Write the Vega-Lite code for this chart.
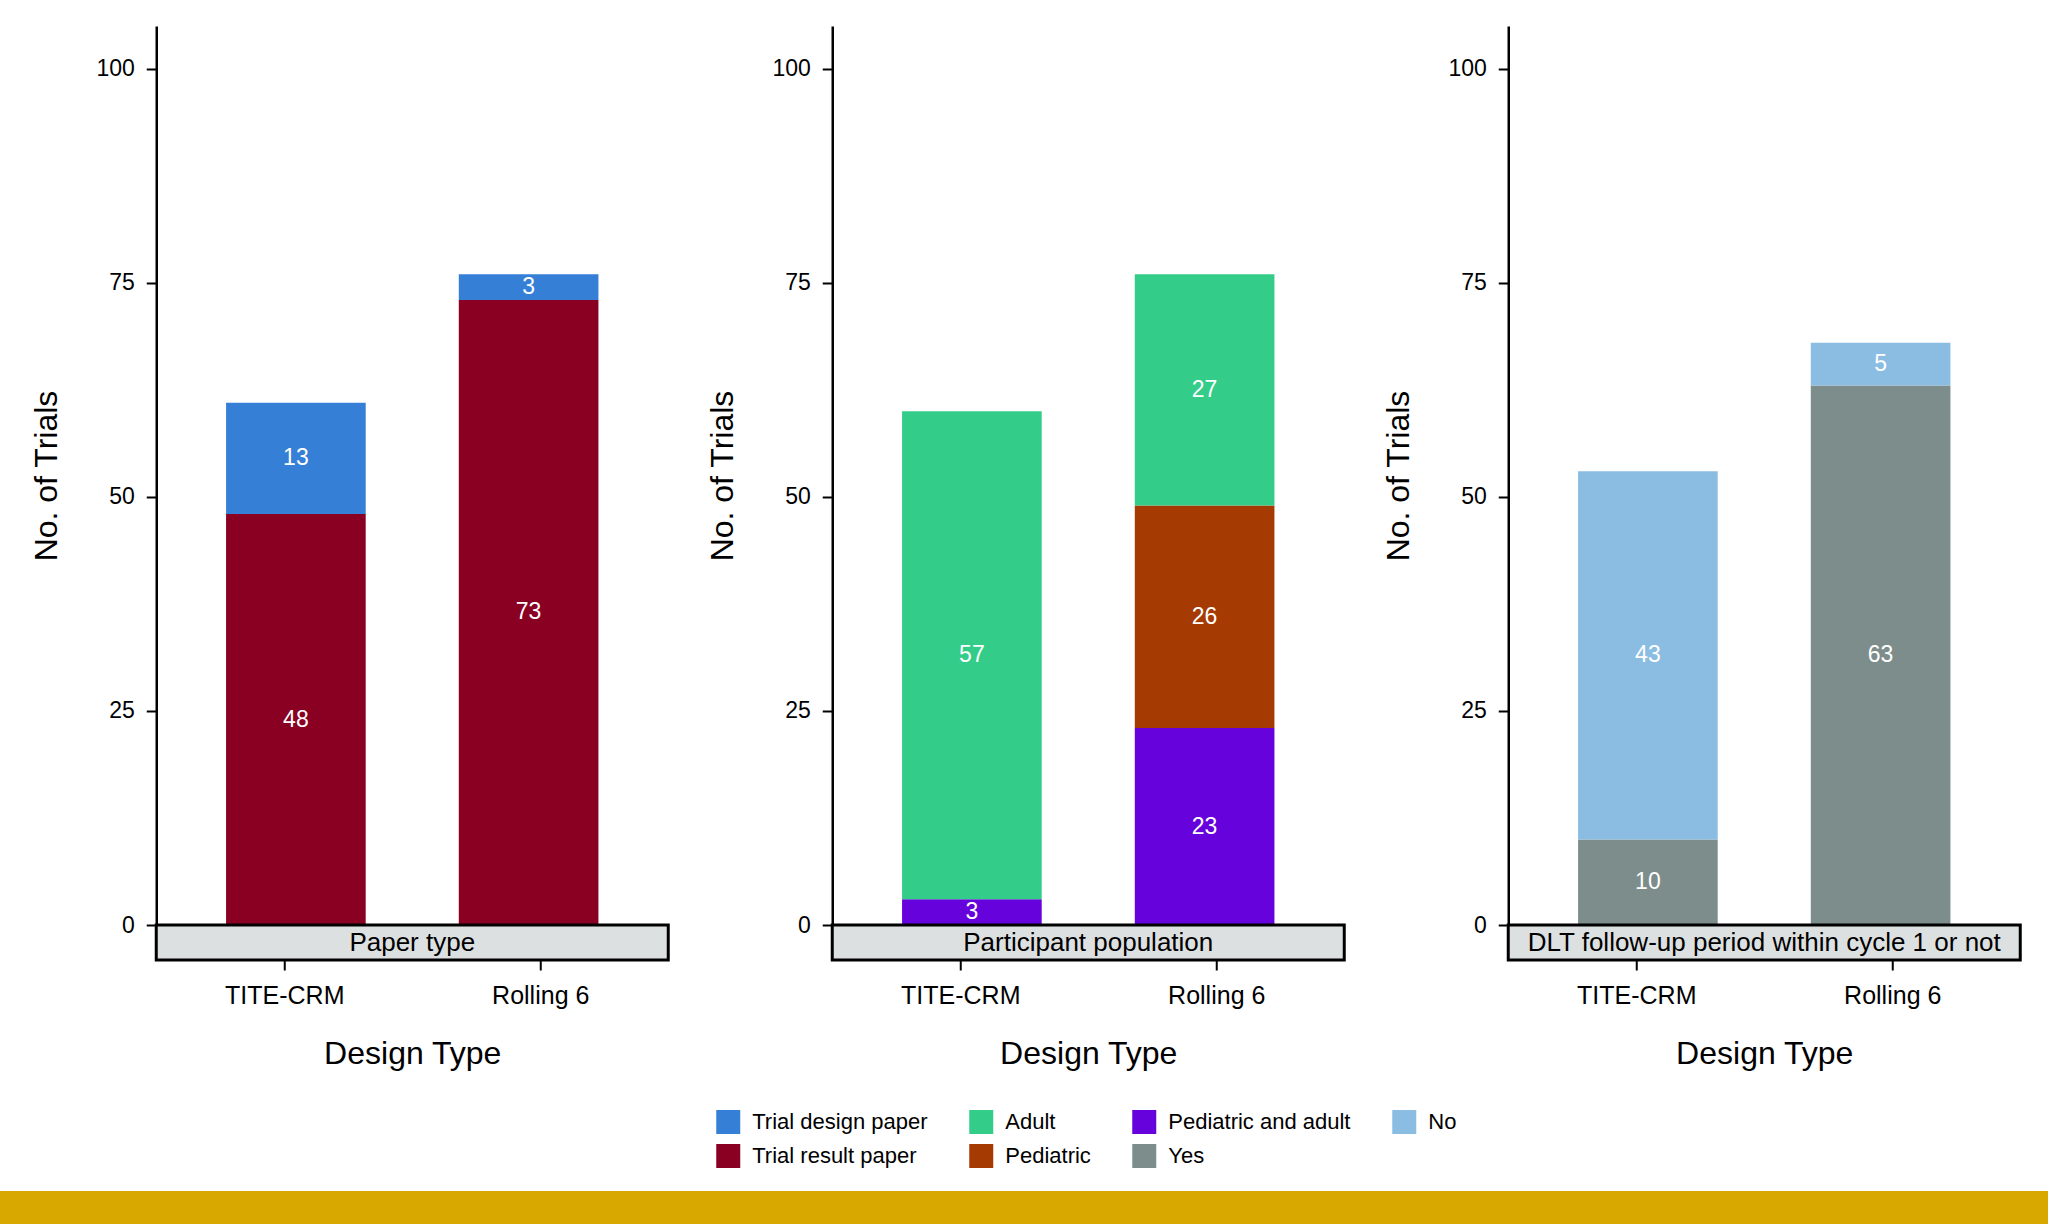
{
  "$schema": "https://vega.github.io/schema/vega-lite/v6.json",
  "description": "Trials by design type: paper type, participant population and DLT follow-up period",
  "padding": {"left": 0, "top": 26, "right": 0, "bottom": 0},
  "background": "white",
  "config": {
    "font": "Liberation Sans",
    "view": {"stroke": null},
    "axis": {
      "grid": false,
      "labelColor": "black",
      "titleColor": "black",
      "domainColor": "black",
      "tickColor": "black",
      "labelFont": "Liberation Sans",
      "titleFont": "Liberation Sans",
      "titleFontWeight": "normal"
    },
    "legend": {"labelFont": "Liberation Sans", "labelColor": "black"},
    "text": {"font": "Liberation Sans"}
  },
  "datasets": {
    "trials": [
      {"panel": "Paper type", "design": "TITE-CRM", "group": "Trial result paper", "n": 48},
      {"panel": "Paper type", "design": "TITE-CRM", "group": "Trial design paper", "n": 13},
      {"panel": "Paper type", "design": "Rolling 6", "group": "Trial result paper", "n": 73},
      {"panel": "Paper type", "design": "Rolling 6", "group": "Trial design paper", "n": 3},
      {"panel": "Participant population", "design": "TITE-CRM", "group": "Pediatric and adult", "n": 3},
      {"panel": "Participant population", "design": "TITE-CRM", "group": "Adult", "n": 57},
      {"panel": "Participant population", "design": "Rolling 6", "group": "Pediatric and adult", "n": 23},
      {"panel": "Participant population", "design": "Rolling 6", "group": "Pediatric", "n": 26},
      {"panel": "Participant population", "design": "Rolling 6", "group": "Adult", "n": 27},
      {"panel": "DLT follow-up period within cycle 1 or not", "design": "TITE-CRM", "group": "Yes", "n": 10},
      {"panel": "DLT follow-up period within cycle 1 or not", "design": "TITE-CRM", "group": "No", "n": 43},
      {"panel": "DLT follow-up period within cycle 1 or not", "design": "Rolling 6", "group": "Yes", "n": 63},
      {"panel": "DLT follow-up period within cycle 1 or not", "design": "Rolling 6", "group": "No", "n": 5}
    ],
    "panels": [
      {"panel": "Paper type"},
      {"panel": "Participant population"},
      {"panel": "DLT follow-up period within cycle 1 or not"}
    ]
  },
  "vconcat": [
    {
      "hconcat": [
        {
          "vconcat": [
            {
              "width": 512,
              "height": 899,
              "data": {"name": "trials"},
              "transform": [
                {"filter": "datum.panel === 'Paper type'"},
                {"calculate": "indexof(['Trial result paper', 'Trial design paper', 'Pediatric and adult', 'Pediatric', 'Adult', 'Yes', 'No'], datum.group)", "as": "ord"},
                {"stack": "n", "groupby": ["design"], "sort": [{"field": "ord", "order": "ascending"}], "as": ["y0", "y1"]},
                {"calculate": "(datum.y0 + datum.y1) / 2", "as": "ymid"}
              ],
              "encoding": {
                "x": {
                  "field": "design",
                  "type": "nominal",
                  "scale": {"domain": ["TITE-CRM", "Rolling 6"], "paddingInner": 0.4, "paddingOuter": 0.3},
                  "axis": null
                }
              },
              "layer": [
                {
                  "mark": {"type": "bar"},
                  "encoding": {
                    "y": {
                      "field": "y0",
                      "type": "quantitative",
                      "scale": {"domain": [0, 105], "nice": false},
                      "axis": {
                        "title": "No. of Trials",
                        "values": [0, 25, 50, 75, 100],
                        "tickSize": 10,
                        "tickWidth": 2,
                        "domainWidth": 2.5,
                        "labelFontSize": 23,
                        "labelPadding": 12,
                        "titleFontSize": 32,
                        "titlePadding": 32
                      }
                    },
                    "y2": {"field": "y1"},
                    "color": {
                      "field": "group",
                      "type": "nominal",
                      "scale": {
                        "domain": ["Trial design paper", "Adult", "Pediatric and adult", "No", "Trial result paper", "Pediatric", "Yes"],
                        "range": ["#357FD6", "#33CC88", "#6602DB", "#8BBDE3", "#8A0022", "#A63A03", "#7D8D8B"]
                      },
                      "legend": {
                        "title": null,
                        "orient": "none",
                        "legendX": 560,
                        "legendY": 1084,
                        "direction": "horizontal",
                        "columns": 4,
                        "padding": 0,
                        "symbolType": "square",
                        "symbolSize": 576,
                        "symbolStrokeWidth": 0,
                        "labelFontSize": 22,
                        "labelLimit": 400,
                        "labelOffset": 12,
                        "columnPadding": 41,
                        "rowPadding": 10
                      }
                    }
                  }
                },
                {
                  "mark": {"type": "text", "color": "white", "fontSize": 23, "baseline": "middle"},
                  "encoding": {
                    "y": {"field": "ymid", "type": "quantitative"},
                    "text": {"field": "n", "type": "quantitative"}
                  }
                }
              ]
            },
            {
              "width": 512,
              "height": 35,
              "view": {"fill": "#DDE0E0", "stroke": "black", "strokeWidth": 3},
              "layer": [
                {
                  "data": {"name": "panels"},
                  "transform": [{"filter": "datum.panel === 'Paper type'"}],
                  "mark": {"type": "text", "fontSize": 26, "color": "black", "baseline": "middle"},
                  "encoding": {"text": {"field": "panel"}}
                },
                {
                  "data": {"name": "trials"},
                  "transform": [{"filter": "datum.panel === 'Paper type'"}],
                  "mark": {"type": "point", "opacity": 0},
                  "encoding": {
                    "x": {
                      "field": "design",
                      "type": "nominal",
                      "scale": {"domain": ["TITE-CRM", "Rolling 6"], "paddingInner": 0.4, "paddingOuter": 0.3},
                      "axis": {
                        "title": "Design Type",
                        "orient": "bottom",
                        "domain": false,
                        "labelAngle": 0,
                        "tickSize": 10,
                        "tickWidth": 2,
                        "labelFontSize": 25,
                        "labelPadding": 13,
                        "titleFontSize": 32,
                        "titlePadding": 30
                      }
                    }
                  }
                }
              ]
            }
          ],
          "spacing": 0,
          "bounds": "flush"
        },
        {
          "vconcat": [
            {
              "width": 512,
              "height": 899,
              "data": {"name": "trials"},
              "transform": [
                {"filter": "datum.panel === 'Participant population'"},
                {"calculate": "indexof(['Trial result paper', 'Trial design paper', 'Pediatric and adult', 'Pediatric', 'Adult', 'Yes', 'No'], datum.group)", "as": "ord"},
                {"stack": "n", "groupby": ["design"], "sort": [{"field": "ord", "order": "ascending"}], "as": ["y0", "y1"]},
                {"calculate": "(datum.y0 + datum.y1) / 2", "as": "ymid"}
              ],
              "encoding": {
                "x": {
                  "field": "design",
                  "type": "nominal",
                  "scale": {"domain": ["TITE-CRM", "Rolling 6"], "paddingInner": 0.4, "paddingOuter": 0.3},
                  "axis": null
                }
              },
              "layer": [
                {
                  "mark": {"type": "bar"},
                  "encoding": {
                    "y": {
                      "field": "y0",
                      "type": "quantitative",
                      "scale": {"domain": [0, 105], "nice": false},
                      "axis": {
                        "title": "No. of Trials",
                        "values": [0, 25, 50, 75, 100],
                        "tickSize": 10,
                        "tickWidth": 2,
                        "domainWidth": 2.5,
                        "labelFontSize": 23,
                        "labelPadding": 12,
                        "titleFontSize": 32,
                        "titlePadding": 32
                      }
                    },
                    "y2": {"field": "y1"},
                    "color": {
                      "field": "group",
                      "type": "nominal",
                      "scale": {
                        "domain": ["Trial design paper", "Adult", "Pediatric and adult", "No", "Trial result paper", "Pediatric", "Yes"],
                        "range": ["#357FD6", "#33CC88", "#6602DB", "#8BBDE3", "#8A0022", "#A63A03", "#7D8D8B"]
                      }
                    }
                  }
                },
                {
                  "mark": {"type": "text", "color": "white", "fontSize": 23, "baseline": "middle"},
                  "encoding": {
                    "y": {"field": "ymid", "type": "quantitative"},
                    "text": {"field": "n", "type": "quantitative"}
                  }
                }
              ]
            },
            {
              "width": 512,
              "height": 35,
              "view": {"fill": "#DDE0E0", "stroke": "black", "strokeWidth": 3},
              "layer": [
                {
                  "data": {"name": "panels"},
                  "transform": [{"filter": "datum.panel === 'Participant population'"}],
                  "mark": {"type": "text", "fontSize": 26, "color": "black", "baseline": "middle"},
                  "encoding": {"text": {"field": "panel"}}
                },
                {
                  "data": {"name": "trials"},
                  "transform": [{"filter": "datum.panel === 'Participant population'"}],
                  "mark": {"type": "point", "opacity": 0},
                  "encoding": {
                    "x": {
                      "field": "design",
                      "type": "nominal",
                      "scale": {"domain": ["TITE-CRM", "Rolling 6"], "paddingInner": 0.4, "paddingOuter": 0.3},
                      "axis": {
                        "title": "Design Type",
                        "orient": "bottom",
                        "domain": false,
                        "labelAngle": 0,
                        "tickSize": 10,
                        "tickWidth": 2,
                        "labelFontSize": 25,
                        "labelPadding": 13,
                        "titleFontSize": 32,
                        "titlePadding": 30
                      }
                    }
                  }
                }
              ]
            }
          ],
          "spacing": 0,
          "bounds": "flush"
        },
        {
          "vconcat": [
            {
              "width": 512,
              "height": 899,
              "data": {"name": "trials"},
              "transform": [
                {"filter": "datum.panel === 'DLT follow-up period within cycle 1 or not'"},
                {"calculate": "indexof(['Trial result paper', 'Trial design paper', 'Pediatric and adult', 'Pediatric', 'Adult', 'Yes', 'No'], datum.group)", "as": "ord"},
                {"stack": "n", "groupby": ["design"], "sort": [{"field": "ord", "order": "ascending"}], "as": ["y0", "y1"]},
                {"calculate": "(datum.y0 + datum.y1) / 2", "as": "ymid"}
              ],
              "encoding": {
                "x": {
                  "field": "design",
                  "type": "nominal",
                  "scale": {"domain": ["TITE-CRM", "Rolling 6"], "paddingInner": 0.4, "paddingOuter": 0.3},
                  "axis": null
                }
              },
              "layer": [
                {
                  "mark": {"type": "bar"},
                  "encoding": {
                    "y": {
                      "field": "y0",
                      "type": "quantitative",
                      "scale": {"domain": [0, 105], "nice": false},
                      "axis": {
                        "title": "No. of Trials",
                        "values": [0, 25, 50, 75, 100],
                        "tickSize": 10,
                        "tickWidth": 2,
                        "domainWidth": 2.5,
                        "labelFontSize": 23,
                        "labelPadding": 12,
                        "titleFontSize": 32,
                        "titlePadding": 32
                      }
                    },
                    "y2": {"field": "y1"},
                    "color": {
                      "field": "group",
                      "type": "nominal",
                      "scale": {
                        "domain": ["Trial design paper", "Adult", "Pediatric and adult", "No", "Trial result paper", "Pediatric", "Yes"],
                        "range": ["#357FD6", "#33CC88", "#6602DB", "#8BBDE3", "#8A0022", "#A63A03", "#7D8D8B"]
                      }
                    }
                  }
                },
                {
                  "mark": {"type": "text", "color": "white", "fontSize": 23, "baseline": "middle"},
                  "encoding": {
                    "y": {"field": "ymid", "type": "quantitative"},
                    "text": {"field": "n", "type": "quantitative"}
                  }
                }
              ]
            },
            {
              "width": 512,
              "height": 35,
              "view": {"fill": "#DDE0E0", "stroke": "black", "strokeWidth": 3},
              "layer": [
                {
                  "data": {"name": "panels"},
                  "transform": [{"filter": "datum.panel === 'DLT follow-up period within cycle 1 or not'"}],
                  "mark": {"type": "text", "fontSize": 26, "color": "black", "baseline": "middle"},
                  "encoding": {"text": {"field": "panel"}}
                },
                {
                  "data": {"name": "trials"},
                  "transform": [{"filter": "datum.panel === 'DLT follow-up period within cycle 1 or not'"}],
                  "mark": {"type": "point", "opacity": 0},
                  "encoding": {
                    "x": {
                      "field": "design",
                      "type": "nominal",
                      "scale": {"domain": ["TITE-CRM", "Rolling 6"], "paddingInner": 0.4, "paddingOuter": 0.3},
                      "axis": {
                        "title": "Design Type",
                        "orient": "bottom",
                        "domain": false,
                        "labelAngle": 0,
                        "tickSize": 10,
                        "tickWidth": 2,
                        "labelFontSize": 25,
                        "labelPadding": 13,
                        "titleFontSize": 32,
                        "titlePadding": 30
                      }
                    }
                  }
                }
              ]
            }
          ],
          "spacing": 0,
          "bounds": "flush"
        }
      ],
      "spacing": 36,
      "resolve": {"scale": {"color": "shared"}}
    },
    {
      "width": 2178,
      "height": 33,
      "view": {"fill": "#D9A800", "stroke": null},
      "data": {"values": [{"band": "footer"}]},
      "mark": {"type": "rect", "color": "#D9A800"},
      "encoding": {}
    }
  ],
  "spacing": 23,
  "center": true,
  "resolve": {"scale": {"color": "independent"}, "legend": {"color": "independent"}}
}
